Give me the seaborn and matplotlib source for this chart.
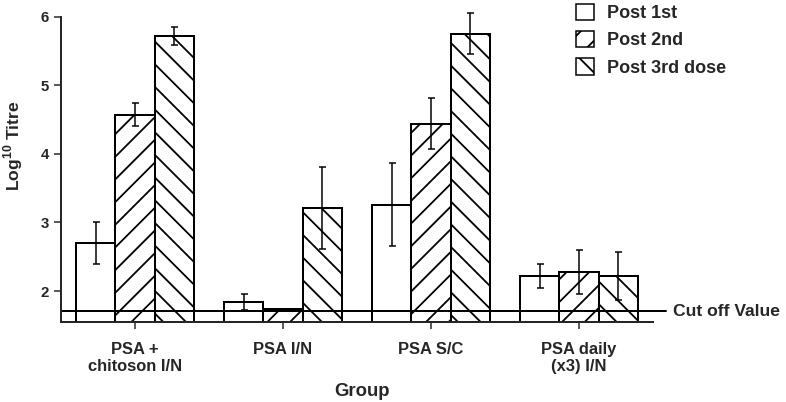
"""Log10 antibody titre per group after each dose, hatched bar chart."""

import matplotlib
matplotlib.use("Agg")
import matplotlib.pyplot as plt
from matplotlib.patches import Patch
import pandas as pd
import seaborn as sns

# values
groups = ["PSA +\nchitoson I/N", "PSA I/N", "PSA S/C", "PSA daily\n(x3) I/N"]
doses = ["Post 1st", "Post 2nd", "Post 3rd dose"]
post1 = [2.70, 1.84, 3.26, 2.22]
post2 = [4.57, 1.74, 4.44, 2.28]
post3 = [5.72, 3.21, 5.75, 2.22]
err1 = [0.30, 0.12, 0.60, 0.18]
err2 = [0.17, 0.00, 0.37, 0.32]
err3 = [0.13, 0.60, 0.30, 0.35]
cutoff = 1.71
yticks = [2, 3, 4, 5, 6]

DPI = 68  # hatch spacing scales with dpi, this one matches the scan
PX = 72 / DPI  # points per pixel


def main():
    sns.set_style("ticks")
    plt.rcParams["font.family"] = ["Liberation Sans", "DejaVu Sans"]
    plt.rcParams["font.weight"] = "bold"
    plt.rcParams["mathtext.fontset"] = "custom"
    plt.rcParams["mathtext.rm"] = "Liberation Sans"
    plt.rcParams["mathtext.bf"] = "Liberation Sans:bold"
    plt.rcParams["hatch.linewidth"] = 1.8 * PX
    plt.rcParams["hatch.color"] = "black"

    df = pd.DataFrame({
        "Group": groups * 3,
        "Dose": [d for d in doses for _ in groups],
        "Titre": post1 + post2 + post3,
    })
    errs = [err1, err2, err3]

    fig = plt.figure(figsize=(786 / DPI, 402 / DPI), dpi=DPI)
    ax = fig.add_axes([61 / 786, 80 / 402, 592 / 786, 305.5 / 402])

    sns.barplot(data=df, x="Group", y="Titre", hue="Dose", order=groups,
                hue_order=doses, palette=["white"] * 3, edgecolor="black",
                linewidth=2 * PX, width=0.8, errorbar=None, legend=False,
                ax=ax)

    hatches = ["", "/", "\\"]
    for container, hatch, err in zip(ax.containers, hatches, errs):
        xs, ys = [], []
        for bar in container:
            bar.set_hatch(hatch)
            xs.append(bar.get_x() + bar.get_width() / 2)
            ys.append(bar.get_height())
        ax.errorbar(xs, ys, yerr=err, fmt="none", ecolor="black",
                    elinewidth=1.5 * PX, capsize=3.5 * PX,
                    capthick=1.5 * PX, clip_on=False)

    ax.set_ylim(1.55, 6.0)
    ax.set_xlim(-0.5, 3.5)
    ax.set_yticks(yticks)

    # cut off line runs a little past the axis
    ax.axhline(cutoff, xmin=0, xmax=1.022, color="black",
               linewidth=2 * PX, clip_on=False)
    ax.text(1.034, cutoff, "Cut off Value", transform=ax.get_yaxis_transform(),
            fontsize=17.5 * PX, fontweight="bold", va="center", ha="left")

    sns.despine(ax=ax)
    for side in ["left", "bottom"]:
        ax.spines[side].set_linewidth(2 * PX)
    ax.tick_params(axis="y", labelsize=15 * PX, length=7 * PX,
                   width=1.5 * PX, pad=5 * PX)
    ax.tick_params(axis="x", labelsize=16.5 * PX, length=7 * PX,
                   width=1.5 * PX, pad=13 * PX)
    for lab in ax.get_xticklabels() + ax.get_yticklabels():
        lab.set_fontweight("bold")

    ax.set_xlabel("Group", fontsize=18.5 * PX, fontweight="bold")
    ax.set_ylabel(r"Log$^{\mathbf{10}}$ Titre", fontsize=17.5 * PX,
                  fontweight="bold")
    ax.xaxis.set_label_coords(0.508, -0.20)
    ax.yaxis.set_label_coords(-0.061, 0.576)

    handles = [Patch(facecolor="white", edgecolor="black", hatch=h,
                     linewidth=1.5 * PX) for h in hatches]
    fig.legend(handles, doses, loc="upper left",
               bbox_to_anchor=(576 / 786, 1 - 4 / 402), frameon=False,
               handlelength=1.0, handleheight=1.0,
               handletextpad=0.7, labelspacing=0.5, borderpad=0,
               borderaxespad=0, prop={"weight": "bold", "size": 18 * PX})

    fig.savefig("out.png", dpi=DPI)


if __name__ == "__main__":
    main()
